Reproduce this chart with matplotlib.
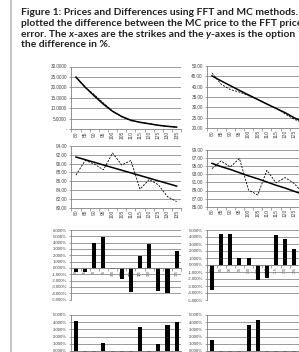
import numpy as np
import matplotlib.pyplot as plt
from matplotlib.lines import Line2D
from matplotlib.text import Annotation

W, H = 299, 352

# strikes on the x-axes
strikes = [80, 85, 90, 95, 100, 105, 110, 115, 120, 125, 130, 135]

# prices, FFT (solid) and MC (dashed)
fft_a = [24.9, 20.1, 15.9, 11.9, 8.5, 6.0, 4.2, 3.2, 2.5, 1.8, 1.3, 0.9]
mc_a = [24.8, 20.0, 16.5, 12.5, 8.5, 5.9, 4.0, 3.3, 2.6, 1.7, 1.2, 0.9]
fft_b = [45.2, 42.8, 40.5, 38.2, 36.0, 33.8, 31.6, 29.5, 27.4, 24.9, 23.0, 21.2]
mc_b = [46.6, 41.2, 38.6, 37.4, 35.6, 33.8, 31.6, 29.6, 26.8, 24.2, 22.4, 20.8]
fft_c = [91.5, 90.9, 90.3, 89.7, 89.1, 88.5, 87.9, 87.3, 86.7, 86.1, 85.5, 84.9]
mc_c = [87.4, 90.7, 89.9, 88.6, 92.4, 89.7, 90.7, 84.2, 86.4, 85.2, 82.5, 81.4]
fft_d = [95.7, 94.9, 94.2, 93.4, 92.6, 91.9, 91.1, 90.3, 89.6, 88.8, 88.0, 87.3]
mc_d = [94.4, 96.3, 94.8, 96.9, 89.1, 87.9, 94.0, 90.9, 92.2, 90.7, 88.2, 89.0]

# differences in %
diff_a = [-0.6, -0.6, 4.0, 4.9, -0.25, -1.7, -3.8, 1.9, 3.8, -3.6, -3.9, 2.6]
diff_b = [-3.6, 4.4, 4.5, 0.95, 0.95, -2.1, -1.8, 4.3, 3.7, 2.3, -1.5, 1.0]
diff_c = [4.1, -0.3, -0.2, 1.05, -0.5, -0.4, -0.3, 3.4, -0.6, 0.95, 3.6, 4.0]
diff_d = [1.5, -1.0, -2.0, -0.5, 3.6, 4.3, -1.2, -2.5, -0.8, -1.5, -0.6, -1.1]

caption = [
    [("Figure 1: Prices and Differences using FFT and MC methods. ", "normal")],
    [("plotted the difference between the MC price to the FFT price", "normal")],
    [("error. The ", "normal"), ("x", "italic"), ("-axes are the strikes and the ", "normal"),
     ("y", "italic"), ("-axes is the option", "normal")],
    [("the difference in %.", "normal")],
]

grid_col = '#8a8a8a'
axis_col = '#808080'
tick_font = 'Liberation Sans'

fig = plt.figure(figsize=(W / 100, H / 100), dpi=100)


def px(l, t, r, b):
    return [l / W, 1 - b / H, (r - l) / W, (b - t) / H]


def style(ax, n):
    for s in ['top', 'right']:
        ax.spines[s].set_visible(False)
    for s in ['left', 'bottom']:
        ax.spines[s].set_color(axis_col)
        ax.spines[s].set_linewidth(0.6)
    ax.set_xlim(-0.5, n - 0.5)
    ax.set_xticks(np.arange(n))
    ax.set_xticks(np.arange(n + 1) - 0.5, minor=True)
    ax.tick_params(axis='x', which='major', length=0, pad=1.5)
    ax.tick_params(axis='x', which='minor', length=1.8, width=0.5, color=axis_col)
    ax.tick_params(axis='y', length=1.8, width=0.5, color=axis_col, pad=1.5)
    ax.yaxis.grid(True, color=grid_col, lw=0.6)
    ax.set_axisbelow(True)


def line_chart(rect, fft, mc, ticks, labels):
    ax = fig.add_axes(rect)
    x = np.arange(len(strikes))
    style(ax, len(strikes))
    ax.plot(x, mc, color='black', lw=0.6, ls=(0, (2.5, 1.5)))
    ax.plot(x, fft, color='black', lw=1.1)
    ax.set_ylim(ticks[0], ticks[-1])
    ax.set_yticks(ticks)
    ax.set_yticklabels(labels, fontsize=3.3, family=tick_font, color='#444444')
    ax.set_xticklabels([str(s) for s in strikes], rotation=90, fontsize=3.5,
                       family=tick_font, color='#444444')
    return ax


def bar_chart(rect, diff, lo, hi):
    ax = fig.add_axes(rect)
    x = np.arange(len(strikes))
    style(ax, len(strikes))
    ax.bar(x, diff, width=0.45, color='black')
    ax.set_ylim(lo, hi)
    ticks = np.arange(lo, hi + 1)
    ax.set_yticks(ticks)
    ax.set_yticklabels(['%.3f%%' % t for t in ticks], fontsize=3.1, family=tick_font,
                       color='#444444')
    ax.spines['bottom'].set_position(('data', 0))
    ax.set_xticklabels([str(s) for s in strikes], rotation=90, fontsize=2.6,
                       family=tick_font, color='#444444')
    return ax


line_chart(px(71.4, 66.5, 181.2, 129), fft_a, mc_a, [0, 5, 10, 15, 20, 25, 30],
           ['-', '5.0000', '10.0000', '15.0000', '20.0000', '25.0000', '30.0000'])
line_chart(px(207.4, 66, 317.2, 128), fft_b, mc_b, [20, 25, 30, 35, 40, 45, 50],
           ['%.2f' % v for v in [20, 25, 30, 35, 40, 45, 50]])
line_chart(px(71.4, 146, 181.2, 207.7), fft_c, mc_c, list(range(80, 95, 2)),
           ['%.2f' % v for v in range(80, 95, 2)])
line_chart(px(207.4, 150, 317.2, 206.7), fft_d, mc_d, list(range(85, 100, 2)),
           ['%.2f' % v for v in range(85, 100, 2)])

bar_chart(px(71.4, 230, 181.2, 299.5), diff_a, -5, 6)
bar_chart(px(207.4, 230, 317.2, 300), diff_b, -5, 5)
bar_chart(px(71.4, 315, 181.2, 387), diff_c, -5, 5)
bar_chart(px(207.4, 315, 317.2, 387), diff_d, -5, 5)

# gray rule on the left of the page
fig.add_artist(Line2D([11 / W, 11 / W], [0, 1], color='#bdbdbd', lw=1.2))

# caption, bold with italic x / y
line_y = [12.7, 23.3, 34.0, 44.3]
for parts, yy in zip(caption, line_y):
    last = None
    for txt, st in parts:
        kw = dict(fontsize=7.4, fontweight='bold', fontstyle=st, family='Lato',
                  color='#231f20', va='bottom', ha='left')
        if last is None:
            last = fig.text(20.7 / W, 1 - (yy + 4.6) / H, txt, **kw)
        else:
            last = fig.add_artist(Annotation(txt, xy=(1, 0), xycoords=last,
                                             annotation_clip=False, **kw))

fig.savefig('out.png', dpi=100)
